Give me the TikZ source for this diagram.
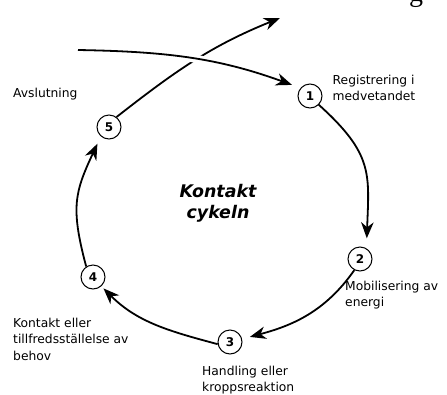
\documentclass[tikz,border=0pt]{standalone}
\usepackage{fontspec}
\setmainfont{DejaVu Sans}
\newfontfamily\kcserif{Liberation Serif}
\usetikzlibrary{arrows.meta, positioning, calc}
\definecolor{kcInk}{HTML}{000000}
\tikzset{
  fasnode/.style={circle, draw=kcInk, line width=1pt, fill=white,
    minimum size=24pt, inner sep=0pt, font=\bfseries\fontsize{12}{12}\selectfont},
  fastext/.style={align=left, inner sep=0pt, text=kcInk,
    font=\fontsize{12.3}{16.5}\selectfont},
  kcarrow/.style={-{Stealth[length=16pt, width=12.5pt, inset=5pt]}, line width=1.8pt, kcInk}
}

\begin{document}
\begin{tikzpicture}[x=1pt, y=-1pt]
  \useasboundingbox (0,0) rectangle (447,394);
  % faserna i cykeln
  \node[fasnode] (f1) at (310,96) {1};
  \node[fasnode] (f2) at (360,259) {2};
  \node[fasnode] (f3) at (230,342) {3};
  \node[fasnode] (f4) at (93,277) {4};
  \node[fasnode] (f5) at (109,127) {5};
  \coordinate (inn) at (78,50);
  \coordinate (ut) at (280,18);
  % texter
  \node[fastext, right=10pt of f1, yshift=8pt] (l1) {Registrering i\\medvetandet};
  \node[fastext, anchor=west] (l2) at (345,295) {Mobilisering av\\energi};
  \node[fastext, anchor=west] (l3) at (202,380) {Handling eller\\kroppsreaktion};
  \node[fastext, anchor=west] (l4) at (13,339) {Kontakt eller\\tillfredsst\"allelse av\\behov};
  \node[fastext, anchor=west] (l5) at (13,94) {Avslutning};
  \node[align=center, inner sep=0pt, font=\bfseries\itshape\fontsize{17.4}{21}\selectfont]
    (rubrik) at (218,203) {Kontakt\\cykeln};
  \node[inner sep=0pt, anchor=base, font=\kcserif\fontsize{28}{28}\selectfont] (gg) at (416,1) {g};
  % pilar
  \draw[kcarrow, shorten >=10pt] (f1.-45) to[out=-42, in=88, looseness=1.25] (f2.59);
  \draw[kcarrow, shorten >=8pt] (f2.-117) to[out=-125, in=15] (f3.14);
  \draw[kcarrow, shorten >=3pt] (f3.190) to[out=165, in=-45] (f4.-48);
  \draw[kcarrow, shorten >=8pt] (f4.123) to[out=105, in=-115, looseness=1.2] (f5.-131);
  \draw[kcarrow] (f5.53) to[out=38, in=202] (ut);
  \draw[kcarrow, shorten >=9pt, preaction={draw=white, line width=8pt, -}]
    (inn) to[out=-1, in=160] (f1.140);
\end{tikzpicture}
\end{document}
